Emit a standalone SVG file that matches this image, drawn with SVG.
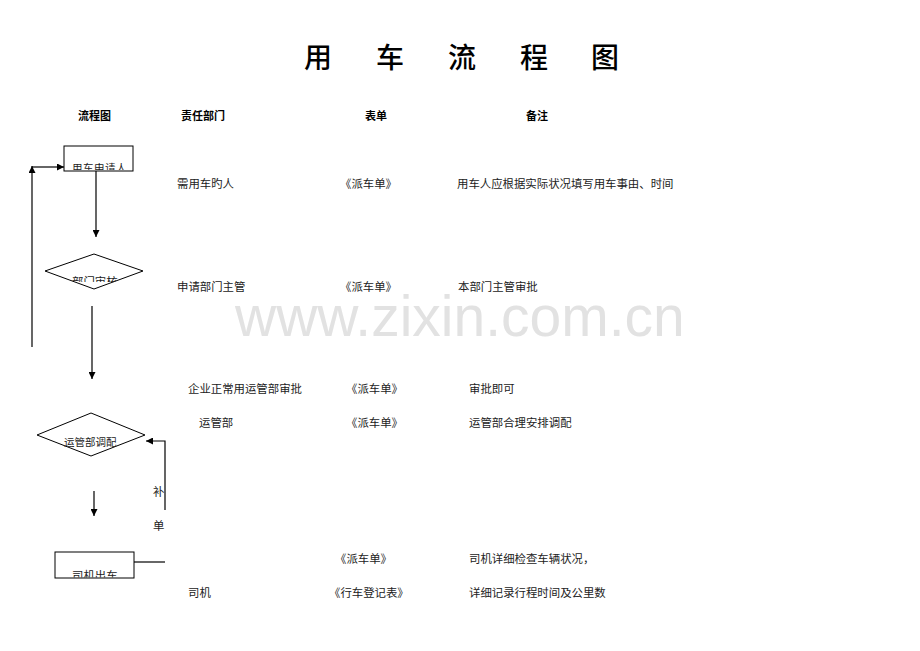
<svg xmlns="http://www.w3.org/2000/svg" width="920" height="651" viewBox="0 0 920 651">
<style>
.t{font-family:"Liberation Serif","Noto Sans CJK SC",serif;font-size:11.4px;fill:#222}
.h{font-family:"Liberation Sans","Noto Sans CJK SC",sans-serif;font-size:11px;font-weight:bold;fill:#000}
.n{font-family:"Liberation Serif","Noto Sans CJK SC",serif;font-size:10.5px;fill:#222}
.s{fill:#fff;stroke:#000;stroke-width:1}
.c{fill:none;stroke:#000;stroke-width:1.2}
</style>
<defs>
<marker id="ah" viewBox="0 0 10 10" refX="10" refY="5" markerWidth="7" markerHeight="7" orient="auto" markerUnits="userSpaceOnUse">
<path d="M0,0 L10,5 L0,10 z" fill="#000"/>
</marker>
<clipPath id="c1"><rect x="64" y="146" width="69" height="24"/></clipPath>
<clipPath id="c2"><rect x="40" y="250" width="110" height="32"/></clipPath>
<clipPath id="c3"><rect x="55" y="552" width="79" height="25.5"/></clipPath>
</defs>
<rect width="920" height="651" fill="#fff"/>
<text x="235" y="336" font-family="Liberation Sans,Arial,sans-serif" font-size="57" fill="#e2e2e2">www.zixin.com.cn</text>
<g id="title">
<text y="68" font-family="Liberation Serif,'Noto Sans CJK SC',serif" font-size="28" font-weight="500" fill="#000"><tspan x="304">用</tspan><tspan x="376">车</tspan><tspan x="448">流</tspan><tspan x="520">程</tspan><tspan x="591">图</tspan></text>
</g>
<g id="headers">
<text class="h" x="78" y="120">流程图</text>
<text class="h" x="181" y="120">责任部门</text>
<text class="h" x="365" y="120">表单</text>
<text class="h" x="526" y="120">备注</text>
</g>
<g id="connectors">
<line class="c" x1="96" y1="171" x2="96" y2="237" marker-end="url(#ah)"/>
<line class="c" x1="92" y1="306" x2="92" y2="379" marker-end="url(#ah)"/>
<line class="c" x1="32" y1="347" x2="32" y2="166" marker-end="url(#ah)"/>
<line class="c" x1="32" y1="167" x2="64" y2="167" marker-end="url(#ah)"/>
<polyline class="c" points="165,510 165,441 146,441" marker-end="url(#ah)"/>
<line class="c" x1="94" y1="491" x2="94" y2="516" marker-end="url(#ah)"/>
<line class="c" x1="134" y1="562" x2="165" y2="562"/>
<text class="t" x="153" y="496">补</text>
<text class="t" x="153" y="530">单</text>
</g>
<g id="node-apply">
<rect class="s" x="64" y="146" width="69" height="25"/>
<text class="n" x="72" y="172" clip-path="url(#c1)" letter-spacing="0.5">用车申请人</text>
</g>
<g id="node-dept">
<polygon class="s" points="45,271 94,254 143,271 94,289"/>
<text class="t" x="72" y="286" clip-path="url(#c2)">部门审核</text>
</g>
<g id="node-ops">
<polygon class="s" points="37,435 91,413 145,435 91,456"/>
<text class="n" x="64" y="446" font-size="9.8">运管部调配</text>
</g>
<g id="node-driver">
<rect class="s" x="55" y="552" width="79" height="26"/>
<text class="t" x="72" y="580" clip-path="url(#c3)">司机出车</text>
</g>
<g id="rows">
<text class="t" x="177" y="188">需用车旳人</text>
<text class="t" x="340" y="188">《派车单》</text>
<text class="t" x="457" y="188">用车人应根据实际状况填写用车事由、时间</text>
<text class="t" x="177" y="291">申请部门主管</text>
<text class="t" x="340" y="291">《派车单》</text>
<text class="t" x="458" y="291">本部门主管审批</text>
<text class="t" x="188" y="393">企业正常用运管部审批</text>
<text class="t" x="346" y="393">《派车单》</text>
<text class="t" x="469" y="393">审批即可</text>
<text class="t" x="199" y="427">运管部</text>
<text class="t" x="346" y="427">《派车单》</text>
<text class="t" x="469" y="427">运管部合理安排调配</text>
<text class="t" x="335" y="563">《派车单》</text>
<text class="t" x="469" y="563">司机详细检查车辆状况，</text>
<text class="t" x="188" y="597">司机</text>
<text class="t" x="329" y="597">《行车登记表》</text>
<text class="t" x="469" y="597">详细记录行程时间及公里数</text>
</g>
</svg>
